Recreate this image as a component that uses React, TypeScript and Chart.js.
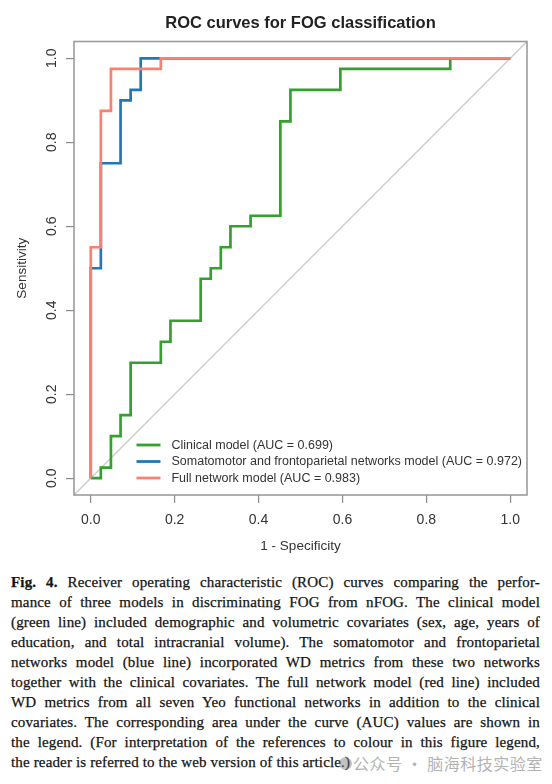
import React, { useEffect, useRef } from "react";
import { Chart, registerables } from "chart.js";

Chart.register(...registerables);

// Legend entries and line colours
const seriesLabels = [
  "Clinical model (AUC = 0.699)",
  "Somatomotor and frontoparietal networks model (AUC = 0.972)",
  "Full network model (AUC = 0.983)",
];
const seriesColors = ["#34a02e", "#2278b5", "#fa8072"];

// ROC vertices: 1 - specificity (fpr) and sensitivity (tpr)
const clinicalFpr = [0, 0.024, 0.024, 0.048, 0.048, 0.071, 0.071, 0.095, 0.095, 0.167, 0.167, 0.19, 0.19, 0.262, 0.262, 0.286, 0.286, 0.31, 0.31, 0.333, 0.333, 0.381, 0.381, 0.452, 0.452, 0.476, 0.476, 0.595, 0.595, 0.857, 0.857, 1];
const clinicalTpr = [0, 0, 0.025, 0.025, 0.1, 0.1, 0.15, 0.15, 0.275, 0.275, 0.325, 0.325, 0.375, 0.375, 0.475, 0.475, 0.5, 0.5, 0.55, 0.55, 0.6, 0.6, 0.625, 0.625, 0.85, 0.85, 0.925, 0.925, 0.975, 0.975, 1, 1];

const networkPairFpr = [0, 0, 0.024, 0.024, 0.071, 0.071, 0.095, 0.095, 0.119, 0.119, 1];
const networkPairTpr = [0, 0.5, 0.5, 0.75, 0.75, 0.9, 0.9, 0.925, 0.925, 1, 1];

const fullNetworkFpr = [0, 0, 0.024, 0.024, 0.048, 0.048, 0.167, 0.167, 1];
const fullNetworkTpr = [0, 0.55, 0.55, 0.875, 0.875, 0.975, 0.975, 1, 1];

// Axis ticks
const xTicks = [0, 0.2, 0.4, 0.6, 0.8, 1.0];
const yTicks = [0, 0.2, 0.4, 0.6, 0.8, 1.0];

const chartTitle = "ROC curves for FOG classification";
const xTitle = "1 - Specificity";
const yTitle = "Sensitivity";

const captionLines = [
  "Receiver operating characteristic (ROC) curves comparing the perfor-",
  "mance of three models in discriminating FOG from nFOG. The clinical model",
  "(green line) included demographic and volumetric covariates (sex, age, years of",
  "education, and total intracranial volume). The somatomotor and frontoparietal",
  "networks model (blue line) incorporated WD metrics from these two networks",
  "together with the clinical covariates. The full network model (red line) included",
  "WD metrics from all seven Yeo functional networks in addition to the clinical",
  "covariates. The corresponding area under the curve (AUC) values are shown in",
  "the legend. (For interpretation of the references to colour in this figure legend,",
  "the reader is referred to the web version of this article.)",
];
const captionLead = "Fig. 4.";
const watermark = "公众号 · 脑海科技实验室";

const SANS = "'Liberation Sans', Arial, Helvetica, sans-serif";
const pairs = (xs: number[], ys: number[]) => xs.map((x, i) => ({ x, y: ys[i] }));

// Plot frame, chance diagonal and the bottom-right legend
const rocDecor = {
  id: "rocDecor",
  beforeDatasetsDraw(chart: any) {
    const { ctx } = chart;
    const xs = chart.scales.x;
    const ys = chart.scales.y;
    ctx.save();
    ctx.strokeStyle = "#c9c9c9";
    ctx.lineWidth = 1.2;
    ctx.beginPath();
    ctx.moveTo(xs.getPixelForValue(xs.min), ys.getPixelForValue(ys.min));
    ctx.lineTo(xs.getPixelForValue(xs.max), ys.getPixelForValue(ys.max));
    ctx.stroke();
    ctx.restore();
  },
  afterDatasetsDraw(chart: any) {
    const { ctx, chartArea } = chart;
    ctx.save();
    ctx.strokeStyle = "#9c9c9c";
    ctx.lineWidth = 1.6;
    ctx.strokeRect(chartArea.left, chartArea.top, chartArea.right - chartArea.left, chartArea.bottom - chartArea.top);

    // legend
    ctx.font = `12.5px ${SANS}`;
    const entries = chart.data.datasets.filter((d: any) => d.legendRow !== undefined);
    const widest = Math.max(...entries.map((d: any) => ctx.measureText(d.label).width));
    const textX = chartArea.right - 5 - widest;
    const lineX0 = textX - 35;
    const lineX1 = textX - 11;
    const rowGap = 16.5;
    entries.forEach((d: any) => {
      const y = chartArea.bottom - 17 - (entries.length - 1 - d.legendRow) * rowGap;
      ctx.strokeStyle = d.borderColor;
      ctx.lineWidth = 2.8;
      ctx.beginPath();
      ctx.moveTo(lineX0, y);
      ctx.lineTo(lineX1, y);
      ctx.stroke();
      ctx.fillStyle = "#333";
      ctx.textAlign = "left";
      ctx.textBaseline = "middle";
      ctx.fillText(d.label, textX, y + 0.5);
    });
    ctx.restore();
  },
};

function RocChart() {
  const ref = useRef<HTMLCanvasElement | null>(null);
  useEffect(() => {
    if (!ref.current) return;
    const ds = (i: number, xs: number[], ys: number[], order: number) => ({
      label: seriesLabels[i],
      legendRow: i,
      data: pairs(xs, ys),
      borderColor: seriesColors[i],
      backgroundColor: seriesColors[i],
      borderWidth: 2.7,
      pointRadius: 0,
      fill: false,
      tension: 0,
      order,
    });
    const chart = new Chart(ref.current, {
      type: "line",
      data: {
        datasets: [
          ds(0, clinicalFpr, clinicalTpr, 2),
          ds(1, networkPairFpr, networkPairTpr, 1),
          ds(2, fullNetworkFpr, fullNetworkTpr, 0),
        ],
      },
      options: {
        animation: false,
        responsive: false,
        devicePixelRatio: 1,
        layout: { padding: { left: 0, right: 25, top: 0, bottom: 0 } },
        plugins: {
          legend: { display: false },
          tooltip: { enabled: false },
          title: {
            display: true,
            text: chartTitle,
            fullSize: false,
            color: "#222",
            font: { family: SANS, size: 16.5, weight: "bold" },
            padding: { top: 14, bottom: 7.7 },
          },
        },
        scales: {
          x: {
            type: "linear",
            min: -0.04,
            max: 1.04,
            afterBuildTicks: (s: any) => { s.ticks = xTicks.map((v) => ({ value: v })); },
            afterFit: (s: any) => { s.height = 65; },
            ticks: {
              color: "#333",
              font: { family: SANS, size: 14 },
              padding: 9,
              maxRotation: 0,
              callback: (v: any) => Number(v).toFixed(1),
            },
            grid: { drawOnChartArea: false, drawTicks: true, tickLength: 8, color: "#8c8c8c", lineWidth: 1.2 },
            border: { display: false },
            title: { display: true, text: xTitle, color: "#333", font: { family: SANS, size: 13.5 }, padding: { top: 0, bottom: 6 } },
          },
          y: {
            type: "linear",
            min: -0.04,
            max: 1.04,
            afterBuildTicks: (s: any) => { s.ticks = yTicks.map((v) => ({ value: v })); },
            afterFit: (s: any) => { s.width = 74; },
            ticks: {
              color: "#333",
              font: { family: SANS, size: 14 },
              padding: 4,
              minRotation: 90,
              maxRotation: 90,
              crossAlign: "center",
              callback: (v: any) => Number(v).toFixed(1),
            },
            grid: { drawOnChartArea: false, drawTicks: true, tickLength: 8, color: "#8c8c8c", lineWidth: 1.2 },
            border: { display: false },
            title: { display: true, text: yTitle, color: "#333", font: { family: SANS, size: 13.5 }, padding: { top: 14, bottom: 0 } },
          },
        },
      },
      plugins: [rocDecor],
    } as any);
    return () => chart.destroy();
  }, []);
  return <canvas ref={ref} width={552} height={560} style={{ display: "block", width: 552, height: 560 }} />;
}

export default function App() {
  return (
    <div style={{ position: "absolute", left: 0, top: 0, width: 552, height: 784, background: "#fff", overflow: "hidden" }}>
      <RocChart />
      <div
        style={{
          position: "absolute",
          left: 11,
          top: 572,
          width: 529,
          fontFamily: "'Liberation Serif', 'Times New Roman', serif",
          fontSize: 15,
          letterSpacing: "0.15px",
          color: "#141414",
          WebkitTextStroke: "0.25px #141414",
        } as any}
      >
        {captionLines.map((line, i) => {
          const last = i === captionLines.length - 1;
          return (
            <div key={i} style={{ height: 20, lineHeight: "20px", whiteSpace: "nowrap", textAlign: last ? "left" : "justify", textAlignLast: last ? "left" : "justify" } as any}>
              {i === 0 ? <b>{captionLead} </b> : null}
              {line}
            </div>
          );
        })}
      </div>
      <div style={{ position: "absolute", left: 339, top: 757, width: 13, height: 13, borderRadius: "50%", background: "rgba(120,120,120,0.45)" }} />
      <div style={{ position: "absolute", left: 353, top: 752, fontFamily: "'Noto Sans CJK SC', sans-serif", fontSize: 16, lineHeight: "22px", color: "#b3b3b3", whiteSpace: "nowrap", letterSpacing: "0.5px" }}>
        {watermark}
      </div>
    </div>
  );
}
